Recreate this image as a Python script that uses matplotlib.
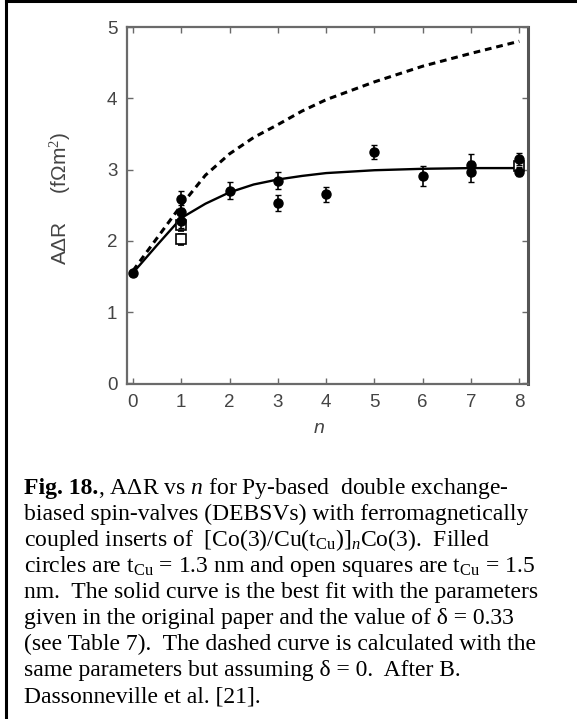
import matplotlib
matplotlib.use("Agg")
import matplotlib.pyplot as plt
from matplotlib.lines import Line2D

plt.rcParams['mathtext.fontset'] = 'custom'
plt.rcParams['mathtext.rm'] = 'Liberation Serif'
plt.rcParams['mathtext.it'] = 'Liberation Serif:italic'
plt.rcParams['mathtext.bf'] = 'Liberation Serif:bold'

# measured A*dR for t_Cu = 1.3 nm (filled circles)
n_circ = [0, 1, 1, 1, 2, 3, 3, 4, 5, 6, 7, 7, 8, 8]
adr_circ = [1.55, 2.58, 2.40, 2.28, 2.70, 2.84, 2.53, 2.65, 3.25, 2.91, 3.07, 2.97, 3.15, 2.97]
err_circ = [0.04, 0.12, 0.10, 0.10, 0.12, 0.12, 0.11, 0.10, 0.10, 0.14, 0.15, 0.15, 0.08, 0.06]

# t_Cu = 1.5 nm (open squares)
n_sq = [1, 1, 8]
adr_sq = [2.22, 2.02, 3.05]
err_sq = [0.08, 0.08, 0.10]

# model curves: delta = 0.33 (solid) and delta = 0 (dashed)
n_fit = [0, 0.5, 1, 1.5, 2, 2.5, 3, 3.5, 4, 5, 6, 7, 8]
fit_solid = [1.55, 1.94, 2.32, 2.52, 2.68, 2.79, 2.86, 2.91, 2.95, 2.99, 3.01, 3.02, 3.02]
fit_dashed = [1.58, 2.04, 2.50, 2.92, 3.22, 3.45, 3.63, 3.82, 3.98, 4.23, 4.45, 4.63, 4.80]

xticks = list(range(0, 9))
yticks = list(range(0, 6))

fig_label = "Fig. 18."
caption = [
    r", A$\Delta$R vs $n$ for Py-based  double exchange-",
    "biased spin-valves (DEBSVs) with ferromagnetically",
    r"coupled inserts of  [Co(3)/Cu(t$_{\mathrm{Cu}}$)]$_{n}$Co(3).  Filled",
    r"circles are t$_{\mathrm{Cu}}$ = 1.3 nm and open squares are t$_{\mathrm{Cu}}$ = 1.5",
    "nm.  The solid curve is the best fit with the parameters",
    "given in the original paper and the value of \u03b4 = 0.33",
    "(see Table 7).  The dashed curve is calculated with the",
    "same parameters but assuming \u03b4 = 0.  After B.",
    "Dassonneville et al. [21].",
]

W, H = 577, 719
fig = plt.figure(figsize=(W / 100, H / 100), dpi=100)
ax = fig.add_axes([127 / W, 1 - 384 / H, 401 / W, 357 / H])

axis_grey = '#6a6a6a'
ax.plot(n_fit, fit_dashed, color='black', lw=2.2, ls=(0, (2.2, 1.6)))
ax.plot(n_fit, fit_solid, color='black', lw=1.7)
ax.errorbar(n_sq, adr_sq, yerr=err_sq, fmt='s', ms=6.5, mfc='white', mec='black',
            mew=1.2, ecolor='black', elinewidth=1.2, capsize=2.5, zorder=3)
ax.errorbar(n_circ, adr_circ, yerr=err_circ, fmt='o', ms=6.5, color='black',
            ecolor='black', elinewidth=1.2, capsize=2.5, zorder=4)

ax.set_xlim(-0.124, 8.18)
ax.set_ylim(-0.01, 5.0)
ax.set_xticks(xticks)
ax.set_yticks(yticks)
ax.tick_params(direction='in', top=True, right=True, length=4, width=1,
               color=axis_grey, labelcolor='#444444', labelsize=13.5, pad=7)
for lab in ax.get_xticklabels() + ax.get_yticklabels():
    lab.set_family('Liberation Sans')
for side in ax.spines:
    ax.spines[side].set_color(axis_grey)
    ax.spines[side].set_linewidth(1.6)
ax.spines['right'].set_linewidth(2.2)
ax.spines['right'].set_color('#555555')

ax.set_ylabel("A\u0394R     (f\u03a9m$^{2}$)", family='Liberation Sans', fontsize=15,
              color='#444444')
ax.yaxis.set_label_coords(-0.135, 0.52)
ax.set_xlabel("n", family='Liberation Sans', style='italic', fontsize=14,
              color='#444444')
ax.xaxis.set_label_coords(0.48, -0.10)

# caption block under the plot
cap_x = 24 / W
for i, line in enumerate(caption):
    y_base = 1 - (494 + 26 * i) / H
    if i == 0:
        lead = fig.text(cap_x, y_base, fig_label, family='Liberation Serif',
                        fontsize=17, fontweight='bold', va='baseline', ha='left')
        fig.draw_without_rendering()
        fig.text(lead.get_window_extent().x1 / fig.bbox.width, y_base, line,
                 family='Liberation Serif', fontsize=17, va='baseline', ha='left')
    else:
        fig.text(cap_x, y_base, line, family='Liberation Serif',
                 fontsize=17, va='baseline', ha='left')

# frame around the figure
fig.add_artist(Line2D([6 / W, 6 / W], [0, 1 - 1 / H], color='black', lw=2.2,
                      transform=fig.transFigure))
fig.add_artist(Line2D([6 / W, 1], [1 - 1 / H, 1 - 1 / H], color='black', lw=2.2,
                      transform=fig.transFigure))

fig.savefig("out.png", dpi=100)
